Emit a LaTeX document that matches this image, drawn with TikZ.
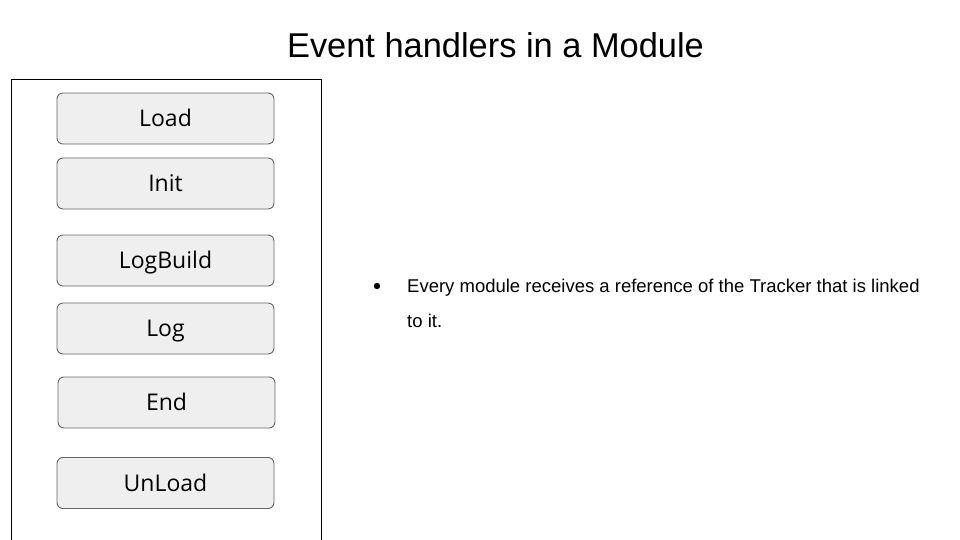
\documentclass[tikz,border=0pt]{standalone}
\usepackage{fontspec}
\setmainfont{Liberation Sans}
\newfontfamily\boxfont{Open Sans}
\definecolor{boxfill}{HTML}{EFEFEF}
\definecolor{boxline}{HTML}{666666}
\begin{document}
\begin{tikzpicture}[x=1pt,y=-1pt,
  handler/.style={draw=boxline, fill=boxfill, rounded corners=6pt, line width=0.9pt,
    minimum width=217pt, minimum height=51pt, inner sep=0pt,
    text height=16.4pt, text depth=0pt,
    font=\boxfont\fontsize{23}{27}\selectfont, text=black},
  txt/.style={inner sep=0pt, anchor=base west, font=\fontsize{18.5}{22}\selectfont}]
\useasboundingbox (0,0) rectangle (960,540);
\fill[white] (0,0) rectangle (960,540);
\node[inner sep=0pt, font=\fontsize{34.4}{40}\selectfont] (title) at (495.5,45) {Event handlers in a Module};
\draw[black, line width=1pt] (11,541) -- (11,79.5) -- (321,79.5) -- (321,541);
\node[handler] (load) at (165.5,118.5) {Load};
\node[handler] (init) at (165.5,183.5) {Init};
\node[handler] (logbuild) at (165.5,260.5) {LogBuild};
\node[handler] (log) at (165.5,328.5) {Log};
\node[handler] (end) at (166.5,402.5) {End};
\node[handler] (unload) at (165.5,483) {UnLoad};
\fill[black] (377,286) circle (3.2pt);
\node[txt] (line1) at (407,292.5) {Every module receives a reference of the Tracker that is linked};
\node[txt] (line2) at (407,327.5) {to it.};
\end{tikzpicture}
\end{document}
